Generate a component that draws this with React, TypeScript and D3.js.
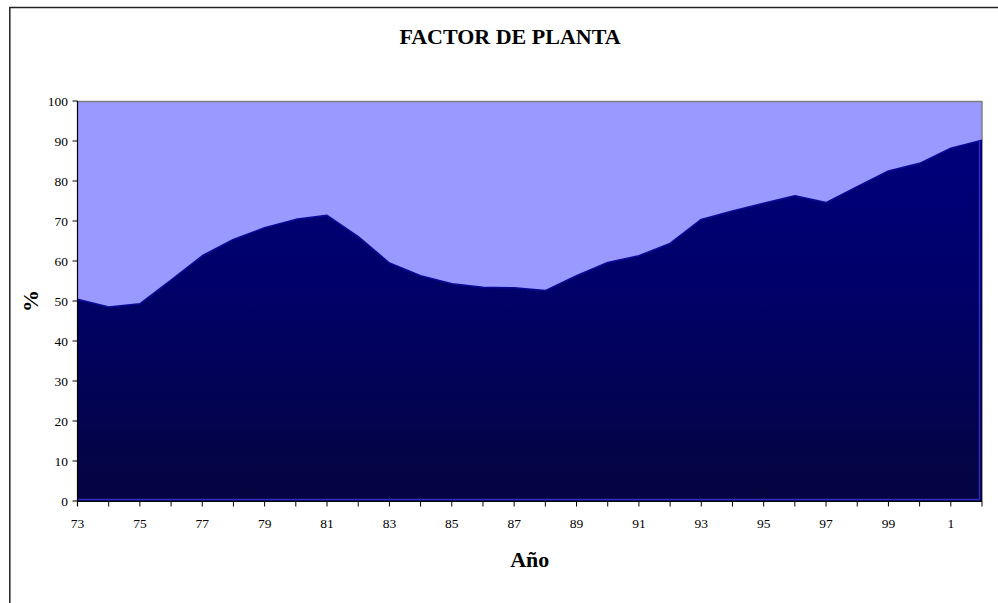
import React from "react";
import * as d3 from "d3";

const years: number[] = [
  1973, 1974, 1975, 1976, 1977, 1978, 1979, 1980, 1981, 1982,
  1983, 1984, 1985, 1986, 1987, 1988, 1989, 1990, 1991, 1992,
  1993, 1994, 1995, 1996, 1997, 1998, 1999, 2000, 2001, 2002,
];
const factor: number[] = [
  50.4, 48.5, 49.3, 55.2, 61.3, 65.4, 68.3, 70.4, 71.4, 66.1,
  59.5, 56.3, 54.3, 53.4, 53.3, 52.6, 56.3, 59.6, 61.3, 64.4,
  70.4, 72.5, 74.4, 76.3, 74.6, 78.6, 82.5, 84.4, 88.2, 90.2,
];
const yTicks: number[] = [0, 10, 20, 30, 40, 50, 60, 70, 80, 90, 100];
const xLabelYears: number[] = years.filter((y) => y % 2 === 1);

const title = "FACTOR DE PLANTA";
const xTitle = "Año";
const yTitle = "%";

export default function App() {
  const W = 998;
  const H = 603;
  const left = 77.5;
  const right = 982;
  const top = 101;
  const bottom = 501;

  const x = d3.scaleLinear().domain([years[0], years[years.length - 1]]).range([left, right]);
  const y = d3.scaleLinear().domain([0, 100]).range([bottom, top]);

  const data = years.map((yr, i) => ({ yr, v: factor[i] }));
  const area = d3
    .area<{ yr: number; v: number }>()
    .x((d) => x(d.yr))
    .y0(y(0))
    .y1((d) => y(d.v));
  const topLine = d3
    .line<{ yr: number; v: number }>()
    .x((d) => x(d.yr))
    .y((d) => y(d.v));

  const serif = "'Liberation Serif', 'Times New Roman', serif";
  const last = data[data.length - 1];

  return (
    <svg
      width={W}
      height={H}
      style={{ position: "absolute", left: 0, top: 0, display: "block" }}
      fontFamily={serif}
    >
      <defs>
        <linearGradient id="fillGrad" gradientUnits="userSpaceOnUse" x1="0" y1={top} x2="0" y2={bottom}>
          <stop offset="0%" stopColor="#000080" />
          <stop offset="45%" stopColor="#00006a" />
          <stop offset="100%" stopColor="#04043f" />
        </linearGradient>
      </defs>
      <rect x={0} y={0} width={W} height={H} fill="#fff" />
      <rect x={9.8} y={7.5} width={1000} height={620} fill="#fff" stroke="#222" strokeWidth={1.5} />

      <text x={510} y={44} textAnchor="middle" fontSize={22} fontWeight="bold" fill="#000">
        {title}
      </text>

      {/* plot area */}
      <rect x={left} y={top} width={right - left} height={bottom - top} fill="#9999FF" />
      <line x1={left} y1={top + 0.5} x2={right} y2={top + 0.5} stroke="#808080" strokeWidth={1.5} />
      <line x1={right} y1={top} x2={right} y2={bottom} stroke="#808080" strokeWidth={1.5} />

      <path d={area(data) || ""} fill="url(#fillGrad)" />
      <path d={topLine(data) || ""} fill="none" stroke="#0a0a96" strokeWidth={1.6} strokeLinejoin="round" />
      {/* inner outline of the area along bottom and right */}
      <line x1={left} y1={bottom - 1.5} x2={right - 2.5} y2={bottom - 1.5} stroke="#3030c0" strokeWidth={1.4} />
      <line x1={right - 2.5} y1={y(last.v) + 1} x2={right - 2.5} y2={bottom - 1.5} stroke="#3030c0" strokeWidth={1.4} />

      {/* y axis */}
      <line x1={left} y1={top} x2={left} y2={bottom + 5} stroke="#000" strokeWidth={1.2} />
      {yTicks.map((t) => (
        <g key={t}>
          <line x1={left - 5} x2={left} y1={y(t)} y2={y(t)} stroke="#000" strokeWidth={1} />
          <text x={68} y={y(t)} dy="0.35em" textAnchor="end" fontSize={13.5} fill="#000">
            {t}
          </text>
        </g>
      ))}

      {/* x axis */}
      <line x1={left} y1={bottom + 0.5} x2={right} y2={bottom + 0.5} stroke="#000" strokeWidth={1.2} />
      {years.map((yr) => (
        <line key={yr} x1={x(yr)} x2={x(yr)} y1={bottom} y2={bottom + 5.5} stroke="#000" strokeWidth={1} />
      ))}
      {xLabelYears.map((yr) => (
        <text key={yr} x={x(yr)} y={528} textAnchor="middle" fontSize={13.5} fill="#000">
          {String(yr % 100)}
        </text>
      ))}

      <text x={(left + right) / 2} y={567} textAnchor="middle" fontSize={22} fontWeight="bold" fill="#000">
        {xTitle}
      </text>
      <text
        transform={`translate(38, ${(top + bottom) / 2}) rotate(-90)`}
        textAnchor="middle"
        fontSize={22}
        fontWeight="bold"
        fill="#000"
      >
        {yTitle}
      </text>
    </svg>
  );
}
